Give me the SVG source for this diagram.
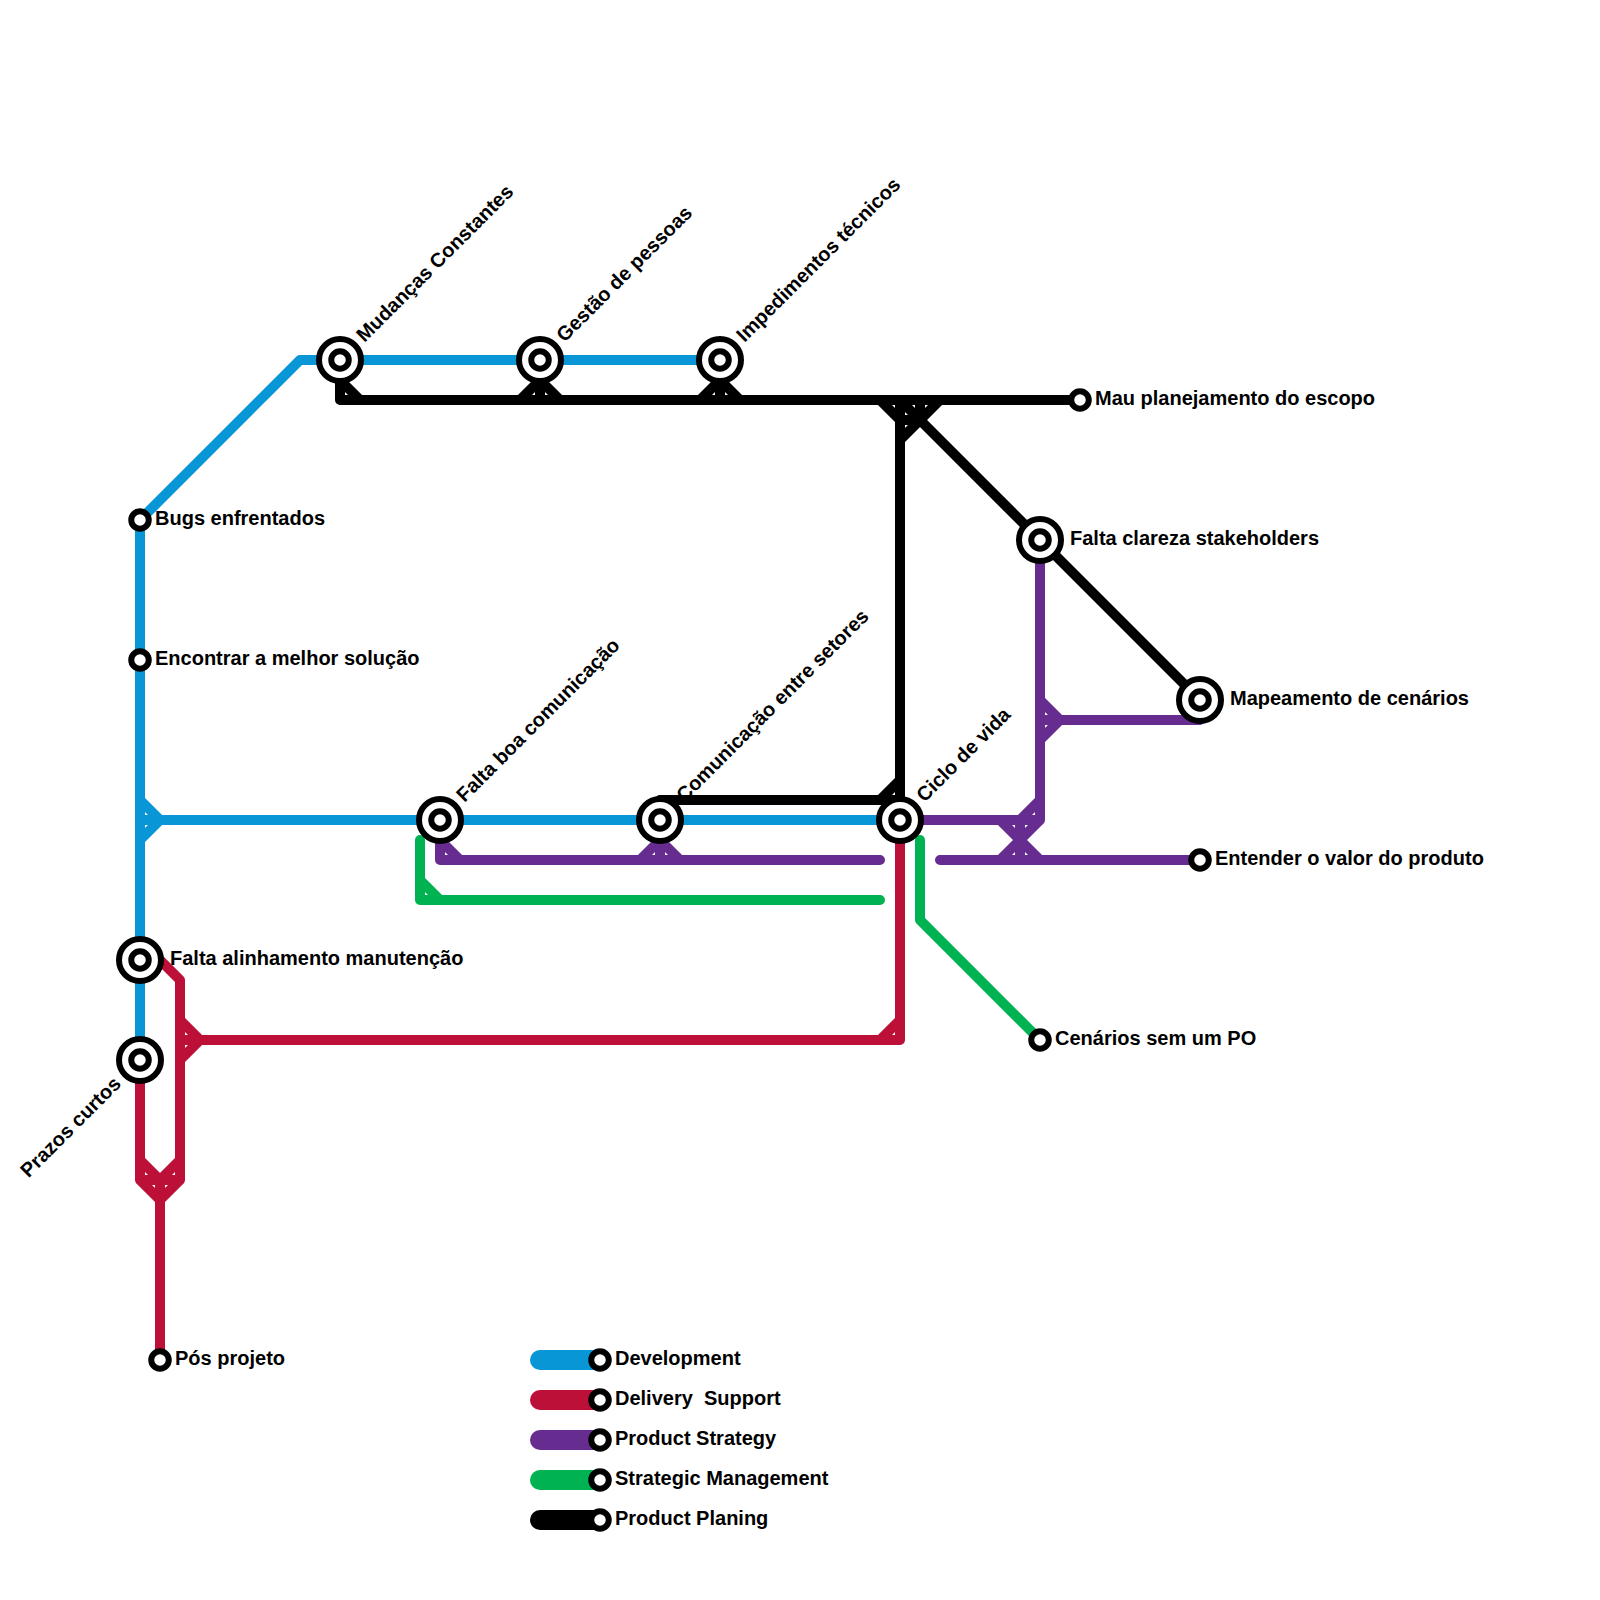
<svg xmlns="http://www.w3.org/2000/svg" width="1600" height="1600" viewBox="0 0 1600 1600">
<style>
.l{fill:none;stroke-width:10;stroke-linecap:round;stroke-linejoin:round}
.j{fill:none;stroke-width:10;stroke-linecap:butt;stroke-linejoin:miter}
.leg{fill:none;stroke-width:20;stroke-linecap:round}
.blue{stroke:#0896d7}.red{stroke:#bd1038}.purple{stroke:#662c90}.green{stroke:#00b251}.black{stroke:#000}
.o{fill:#fff;stroke:#000;stroke-width:6}
.i{fill:#fff;stroke:#000;stroke-width:6}
text{font-family:"Liberation Sans",Arial,sans-serif;font-weight:700;font-size:20px;fill:#000;white-space:pre}
</style>
<defs>
<g id="big"><circle class="o" r="21"/><circle class="i" r="8.75"/></g>
<circle id="small" class="i" r="8.75"/>
</defs>
<g id="connectors">
<g id="line-development">
<path class="l blue" d="M140 1060V520L300 360H738"/>
<path class="l blue" d="M140 820H900"/>
<path class="j blue" d="M140 800L160 820M140 840L160 820"/>
</g>
<g id="line-delivery">
<path class="l red" d="M160 960L180 980V1180M140 1060V1180M160 1180V1360M140 1180H180M180 1040H900M900 820V1040"/>
<path class="j red" d="M140 1160L160 1180L180 1160M140 1180L160 1200L180 1180M180 1020L200 1040L180 1060M900 1020L880 1040"/>
</g>
<g id="line-product-strategy">
<path class="l purple" d="M440 820V860H880M660 820V860"/>
<path class="j purple" d="M440 840L460 860M640 860L660 840L680 860"/>
<path class="l purple" d="M900 820H1040V540M1040 720H1200M940 860H1200M1020 820V860"/>
<path class="j purple" d="M1040 700L1060 720L1040 740M1040 800L1020 820M1000 820L1040 860M1040 820L1000 860"/>
</g>
<g id="line-strategic">
<path class="l green" d="M420 840V900H880"/>
<path class="j green" d="M420 880L440 900"/>
<path class="l green" d="M920 840V920L1040 1040"/>
</g>
<g id="line-planning">
<path class="l black" d="M340 360V400H1080M540 360V400M720 360V400"/>
<path class="j black" d="M340 380L360 400M520 400L540 380L560 400M700 400L720 380L740 400"/>
<path class="l black" d="M660 820V800H900V400M900 400L1200 700"/>
<path class="j black" d="M880 400L900 420M940 400L900 440M900 780L880 800"/>
<path class="l black" d="M920 400V420H900"/>
</g>
<g id="legend-lines">
<path class="leg blue" d="M540 1360H600"/>
<path class="leg red" d="M540 1400H600"/>
<path class="leg purple" d="M540 1440H600"/>
<path class="leg green" d="M540 1480H600"/>
<path class="leg black" d="M540 1520H600"/>
</g>
</g>
<g id="mudancas"><use href="#big" x="340" y="360"/><text transform="translate(364.5,343) rotate(-45)">Mudanças Constantes</text></g>
<g id="gestao"><use href="#big" x="540" y="360"/><text transform="translate(564.5,343) rotate(-45)">Gestão de pessoas</text></g>
<g id="impedimentos"><use href="#big" x="720" y="360"/><text transform="translate(744.5,343) rotate(-45)">Impedimentos técnicos</text></g>
<g id="mau-planejamento"><use href="#small" x="1080" y="400"/><text x="1095" y="405">Mau planejamento do escopo</text></g>
<g id="bugs"><use href="#small" x="140" y="520"/><text x="155" y="525">Bugs enfrentados</text></g>
<g id="encontrar"><use href="#small" x="140" y="660"/><text x="155" y="665">Encontrar a melhor solução</text></g>
<g id="falta-clareza"><use href="#big" x="1040" y="540"/><text x="1070" y="545">Falta clareza stakeholders</text></g>
<g id="mapeamento"><use href="#big" x="1200" y="700"/><text x="1230" y="705">Mapeamento de cenários</text></g>
<g id="falta-boa"><use href="#big" x="440" y="820"/><text transform="translate(464.5,803) rotate(-45)">Falta boa comunicação</text></g>
<g id="comunicacao"><use href="#big" x="660" y="820"/><text transform="translate(684.5,803) rotate(-45)">Comunicação entre setores</text></g>
<g id="ciclo"><use href="#big" x="900" y="820"/><text transform="translate(924.5,803) rotate(-45)">Ciclo de vida</text></g>
<g id="entender"><use href="#small" x="1200" y="860"/><text x="1215" y="865">Entender o valor do produto</text></g>
<g id="falta-alinhamento"><use href="#big" x="140" y="960"/><text x="170" y="965">Falta alinhamento manutenção</text></g>
<g id="prazos"><use href="#big" x="140" y="1060"/><text text-anchor="end" transform="translate(122,1085) rotate(-45)">Prazos curtos</text></g>
<g id="cenarios"><use href="#small" x="1040" y="1040"/><text x="1055" y="1045">Cenários sem um PO</text></g>
<g id="pos-projeto"><use href="#small" x="160" y="1360"/><text x="175" y="1365">Pós projeto</text></g>
<g id="legend-development"><use href="#small" x="600" y="1360"/><text x="615" y="1365">Development</text></g>
<g id="legend-delivery"><use href="#small" x="600" y="1400"/><text x="615" y="1405">Delivery  Support</text></g>
<g id="legend-strategy"><use href="#small" x="600" y="1440"/><text x="615" y="1445">Product Strategy</text></g>
<g id="legend-management"><use href="#small" x="600" y="1480"/><text x="615" y="1485">Strategic Management</text></g>
<g id="legend-planning"><use href="#small" x="600" y="1520"/><text x="615" y="1525">Product Planing</text></g>
</svg>
